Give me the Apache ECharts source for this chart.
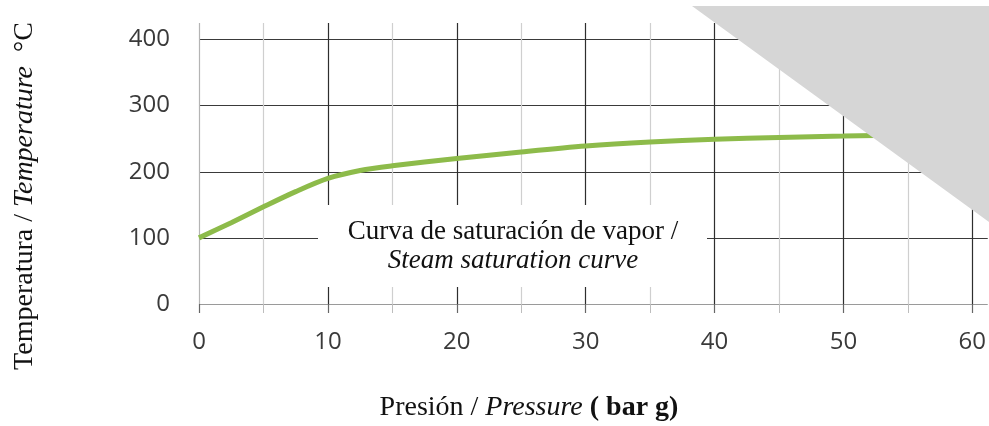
<!DOCTYPE html>
<html>
<head>
<meta charset="utf-8">
<script src="https://cdn.jsdelivr.net/npm/echarts@6/dist/echarts.min.js"></script>
<style>
  html,body{margin:0;padding:0;background:#fff}
  #chart{width:989px;height:426px}
</style>
</head>
<body>
<div id="chart"></div>
<script>
// datos (presión bar g -> temperatura °C)
let pressure = [0, 2.5, 5, 7.5, 10, 12.5, 15, 20, 25, 30, 35, 40, 45, 50, 55, 60, 61.2]
let temperature = [100, 123, 147, 170, 190, 202, 209, 220, 230, 239, 245, 249, 252, 254, 256, 258, 258]
let xMinor = [5, 15, 25, 35, 45, 55]
let xLabels = [0, 10, 20, 30, 40, 50, 60]
let yTicks = [0, 100, 200, 300, 400]

let serif = '"Liberation Serif", "Times New Roman", serif'
let sans = '"Open Sans", sans-serif'

let myChart = echarts.init(document.getElementById('chart'))

// líneas verticales: el 0 gris claro, las decenas oscuras
let vColors = xLabels.map(v => v === 0 ? '#b4b4b4' : '#2e2e2e')
let hColors = yTicks.map(v => v === 0 ? '#9a9a9a' : '#3a3a3a')

let option = {
  animation: false,
  grid: {left: 199, right: 0, top: 23, bottom: 122},
  xAxis: [
    // rejilla menor (cada 5)
    {type: 'value', min: 0, max: 61.2, interval: 5, position: 'bottom',
     axisLine: {show: false}, axisLabel: {show: false},
     axisTick: {show: true, length: 9, customValues: xMinor, lineStyle: {color: '#bdbdbd', width: 1}},
     splitLine: {show: true, lineStyle: {color: '#cfcfcf', width: 1.2}}},
    // rejilla mayor (cada 10) con etiquetas
    {type: 'value', min: 0, max: 61.2, interval: 10, position: 'bottom',
     axisLine: {show: false},
     axisTick: {show: true, length: 9, customValues: xLabels, lineStyle: {color: '#666', width: 1.2}},
     splitLine: {show: true, lineStyle: {color: vColors, width: 1.2}},
     axisLabel: {margin: 26, fontSize: 24, fontFamily: sans, color: '#3a3a3a', customValues: xLabels}}
  ],
  yAxis: {type: 'value', min: 0, max: 425, interval: 100,
    axisLine: {show: false}, axisTick: {show: false},
    axisLabel: {margin: 29, fontSize: 24, fontFamily: sans, color: '#3a3a3a', customValues: yTicks},
    splitLine: {show: true, showMaxLine: false, lineStyle: {color: hColors, width: 1.2}}},
  series: [{
    type: 'line', xAxisIndex: 0, smooth: 0.3, symbol: 'none',
    data: pressure.map((p, i) => [p, temperature[i]]),
    lineStyle: {color: '#8dbb4a', width: 5}
  }],
  graphic: [
    // triángulo gris de la esquina
    {type: 'polygon', z: 100, shape: {points: [[692, 6], [989, 6], [989, 222]]}, style: {fill: '#d6d6d6'}},
    // caja de la leyenda
    {type: 'rect', z: 100, shape: {x: 318, y: 205, width: 389, height: 82}, style: {fill: '#fff'}},
    {type: 'text', z: 101, x: 513, y: 246, style: {
      text: '{r|Curva de saturación de vapor /}\n{i|Steam saturation curve}',
      align: 'center', verticalAlign: 'middle',
      rich: {r: {fontFamily: serif, fontSize: 27, lineHeight: 29, fill: '#111'},
             i: {fontFamily: serif, fontSize: 27, lineHeight: 29, fontStyle: 'italic', fill: '#111'}}}},
    // título eje y
    {type: 'text', z: 101, x: 25, y: 196, rotation: Math.PI / 2, style: {
      text: '{r|Temperatura / }{i|Temperature}{r|  °C}',
      align: 'center', verticalAlign: 'middle',
      rich: {r: {fontFamily: serif, fontSize: 28, fill: '#111'},
             i: {fontFamily: serif, fontSize: 28, fontStyle: 'italic', fill: '#111'}}}},
    // título eje x
    {type: 'text', z: 101, x: 529, y: 408, style: {
      text: '{r|Presión / }{i|Pressure}{b| ( bar g)}',
      align: 'center', verticalAlign: 'middle',
      rich: {r: {fontFamily: serif, fontSize: 28, fill: '#111'},
             i: {fontFamily: serif, fontSize: 28, fontStyle: 'italic', fill: '#111'},
             b: {fontFamily: serif, fontSize: 28, fontWeight: 'bold', fill: '#111'}}}}
  ]
}
myChart.setOption(option)
</script>
</body>
</html>
